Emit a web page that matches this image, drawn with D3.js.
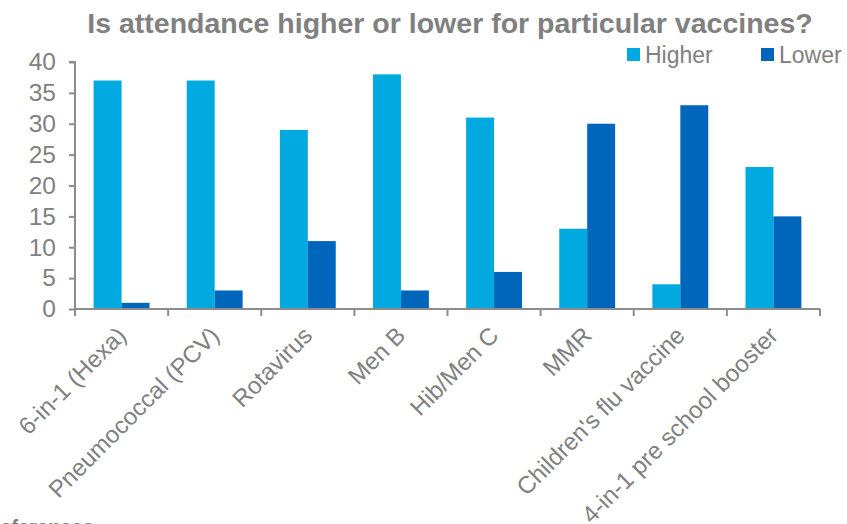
<!DOCTYPE html>
<html><head><meta charset="utf-8">
<script src="https://cdn.jsdelivr.net/npm/d3@7"></script>
<style>body{margin:0;background:#fff;overflow:hidden}text{font-family:"Liberation Sans",Arial,sans-serif}</style>
</head><body><svg id="c" width="847" height="524"></svg>
<script>
const categories = ["6-in-1 (Hexa)","Pneumococcal (PCV)","Rotavirus","Men B","Hib/Men C","MMR","Children's flu vaccine","4-in-1 pre school booster"];
const seriesNames = ["Higher","Lower"];
const higher = [37,37,29,38,31,13,4,23];
const lower = [1,3,11,3,6,30,33,15];
const yTicks = [0,5,10,15,20,25,30,35,40];
const colors = ["#00A9E0","#0066BB"];
const grey = "#808080";

const svg = d3.select("#c");
const mLeft = 75, mRight = 820, mTop = 62, mBottom = 309;
const x0 = d3.scaleBand().domain(categories).range([mLeft, mRight]);
const y = d3.scaleLinear().domain([0, 40]).range([mBottom, mTop]);

svg.append("text").attr("x", 450).attr("y", 33).attr("text-anchor", "middle")
  .attr("font-size", 28.5).attr("font-weight", "bold").attr("fill", grey)
  .text("Is attendance higher or lower for particular vaccines?");

// bars
const bandW = x0.bandwidth();
const xs = d3.scaleBand().domain([0,1]).range([bandW * 0.2, bandW * 0.8]);
const g = svg.append("g");
categories.forEach((c, i) => {
  [higher[i], lower[i]].forEach((v, j) => {
    g.append("rect").attr("x", x0(c) + xs(j)).attr("width", xs.bandwidth())
      .attr("y", y(v)).attr("height", y(0) - y(v)).attr("fill", colors[j]);
  });
});

// y axis
const ya = svg.append("g").attr("transform", `translate(${mLeft},0)`)
  .call(d3.axisLeft(y).tickValues(yTicks).tickSize(6).tickPadding(13));
ya.select(".domain").attr("stroke", "#8c8c8c").attr("stroke-width", 2).attr("d", `M-6,${mTop}H0V${mBottom}`);
ya.selectAll(".tick line").attr("stroke", "#8c8c8c").attr("stroke-width", 2);
ya.selectAll(".tick text").attr("font-size", 24.5).attr("fill", grey)
  .attr("font-family", '"Liberation Sans",Arial,sans-serif');

// x axis
const xa = svg.append("g").attr("transform", `translate(0,${mBottom})`);
xa.append("line").attr("x1", mLeft).attr("x2", mRight).attr("y1", 0).attr("y2", 0)
  .attr("stroke", "#8c8c8c").attr("stroke-width", 2);
const bounds = categories.map(c => x0(c)).concat([mRight]);
xa.selectAll("line.t").data(bounds).enter().append("line").attr("class","t")
  .attr("x1", d => d).attr("x2", d => d).attr("y1", 0).attr("y2", 7)
  .attr("stroke", "#8c8c8c").attr("stroke-width", 2);
xa.selectAll("text.cat").data(categories).enter().append("text").attr("class","cat")
  .attr("transform", c => `translate(${x0(c) + bandW/2 + 6},${28}) rotate(-45)`)
  .attr("text-anchor", "end").attr("font-size", 24).attr("fill", grey).text(c => c);

// legend
const lg = svg.append("g");
const lx = [627, 761];
seriesNames.forEach((s, i) => {
  lg.append("rect").attr("x", lx[i]).attr("y", 48).attr("width", 13).attr("height", 13).attr("fill", colors[i]);
  lg.append("text").attr("x", lx[i] + 18).attr("y", 63).attr("font-size", 23).attr("fill", grey).text(s);
});

svg.append("text").attr("x", -14).attr("y", 534).attr("font-size", 20).attr("font-weight", "bold")
  .attr("fill", grey).text("References");
</script></body></html>
